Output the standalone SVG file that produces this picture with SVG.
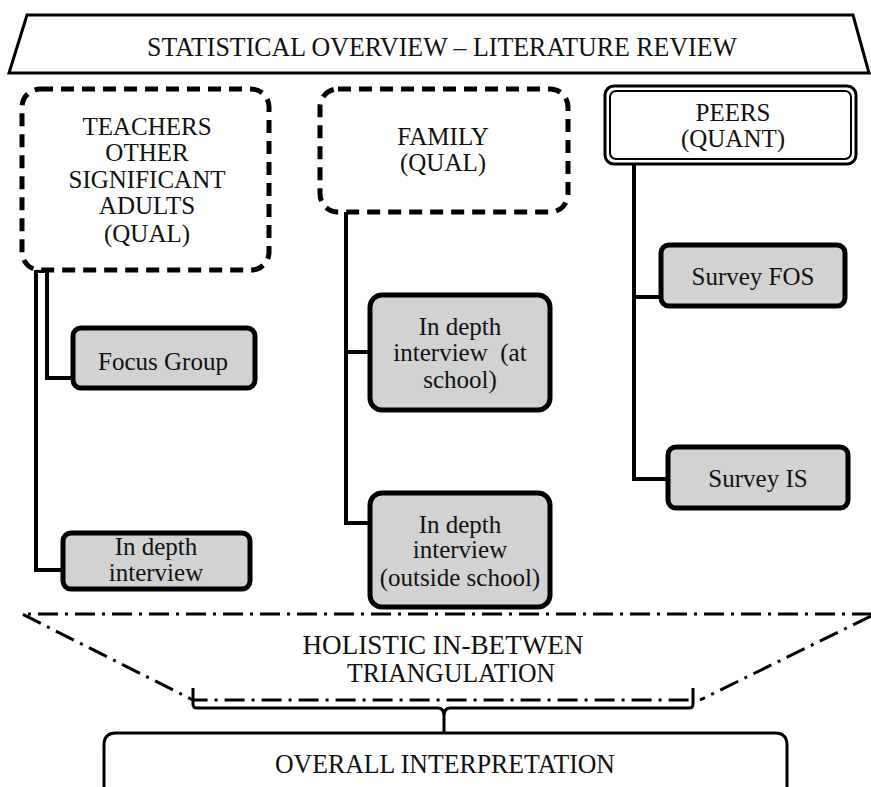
<svg xmlns="http://www.w3.org/2000/svg" width="871" height="787" viewBox="0 0 871 787">
<style>
text{font-family:"Liberation Serif","Times New Roman",serif;fill:#111;text-anchor:middle}
.lbl{font-size:25px}
.big{font-size:27px}
.dash{fill:#fff;stroke:#000;stroke-width:5;stroke-dasharray:13 8}
.gray{fill:#d2d2d2;stroke:#000;stroke-width:5}
.conn{fill:none;stroke:#000;stroke-width:4}
.dd{fill:none;stroke:#000;stroke-width:3;stroke-dasharray:20 7 3 7}
</style>
<rect width="871" height="787" fill="#fff"/>
<g id="header">
<polygon points="27,15 853,15 869,73 9,73" fill="#fff" stroke="#000" stroke-width="3"/>
<text class="big" x="442" y="56" textLength="590" lengthAdjust="spacingAndGlyphs">STATISTICAL OVERVIEW – LITERATURE REVIEW</text>
</g>
<g id="connectors">
<polyline class="conn" points="36,270 36,570 64,570"/>
<polyline class="conn" points="36,271 47,271 47,378 74,378"/>
<polyline class="conn" points="346,212 346,523 371,523"/>
<line class="conn" x1="346" y1="352" x2="371" y2="352"/>
<polyline class="conn" points="634,164 634,479 669,479"/>
<line class="conn" x1="634" y1="297" x2="662" y2="297"/>
</g>
<g id="teachers">
<rect class="dash" x="22" y="89" width="247" height="181" rx="18"/>
<text class="lbl" x="147" y="135">TEACHERS</text>
<text class="lbl" x="147" y="161">OTHER</text>
<text class="lbl" x="147" y="188">SIGNIFICANT</text>
<text class="lbl" x="147" y="214">ADULTS</text>
<text class="lbl" x="147" y="242">(QUAL)</text>
</g>
<g id="family">
<rect class="dash" x="320" y="89" width="248" height="123" rx="18"/>
<text class="lbl" x="443" y="145">FAMILY</text>
<text class="lbl" x="443" y="171">(QUAL)</text>
</g>
<g id="peers">
<rect x="605" y="86" width="251" height="78" rx="9" fill="#fff" stroke="#000" stroke-width="3"/>
<rect x="610" y="91" width="241" height="68" rx="6" fill="none" stroke="#000" stroke-width="2"/>
<text class="lbl" x="733" y="121">PEERS</text>
<text class="lbl" x="733" y="147">(QUANT)</text>
</g>
<g id="focus-group">
<rect class="gray" x="73" y="328" width="182" height="60" rx="8"/>
<text class="lbl" x="163" y="370">Focus Group</text>
</g>
<g id="indepth-teachers">
<rect class="gray" x="63" y="533" width="187" height="56" rx="8"/>
<text class="lbl" x="156" y="555">In depth</text>
<text class="lbl" x="156" y="581">interview</text>
</g>
<g id="indepth-school">
<rect class="gray" x="370" y="295" width="180" height="115" rx="12"/>
<text class="lbl" x="460" y="335">In depth</text>
<text class="lbl" x="460" y="361" xml:space="preserve">interview  (at</text>
<text class="lbl" x="460" y="388">school)</text>
</g>
<g id="indepth-outside">
<rect class="gray" x="370" y="493" width="180" height="114" rx="12"/>
<text class="lbl" x="460" y="533">In depth</text>
<text class="lbl" x="460" y="558">interview</text>
<text class="lbl" x="460" y="586">(outside school)</text>
</g>
<g id="survey-fos">
<rect class="gray" x="661" y="245" width="184" height="61" rx="8"/>
<text class="lbl" x="753" y="285">Survey FOS</text>
</g>
<g id="survey-is">
<rect class="gray" x="668" y="447" width="180" height="61" rx="8"/>
<text class="lbl" x="758" y="487">Survey IS</text>
</g>
<g id="triangulation">
<polyline class="dd" points="872,614 22,614 193,700 690,700"/>
<line class="dd" x1="871" y1="616" x2="700" y2="700"/>
<path d="M193,688 V704 Q193,708 197,708 H438 Q444,708 444,716 V733 M444,716 Q444,708 450,708 H689 Q693,708 693,704 V688" fill="none" stroke="#000" stroke-width="3"/>
<text class="big" x="443" y="654" textLength="281" lengthAdjust="spacingAndGlyphs">HOLISTIC IN-BETWEN</text>
<text class="big" x="451" y="682" textLength="208" lengthAdjust="spacingAndGlyphs">TRIANGULATION</text>
</g>
<g id="overall">
<path d="M104,800 V745 Q104,733 116,733 H775 Q787,733 787,745 V800" fill="#fff" stroke="#000" stroke-width="3"/>
<text class="big" x="445" y="773" textLength="340" lengthAdjust="spacingAndGlyphs">OVERALL INTERPRETATION</text>
</g>
</svg>
